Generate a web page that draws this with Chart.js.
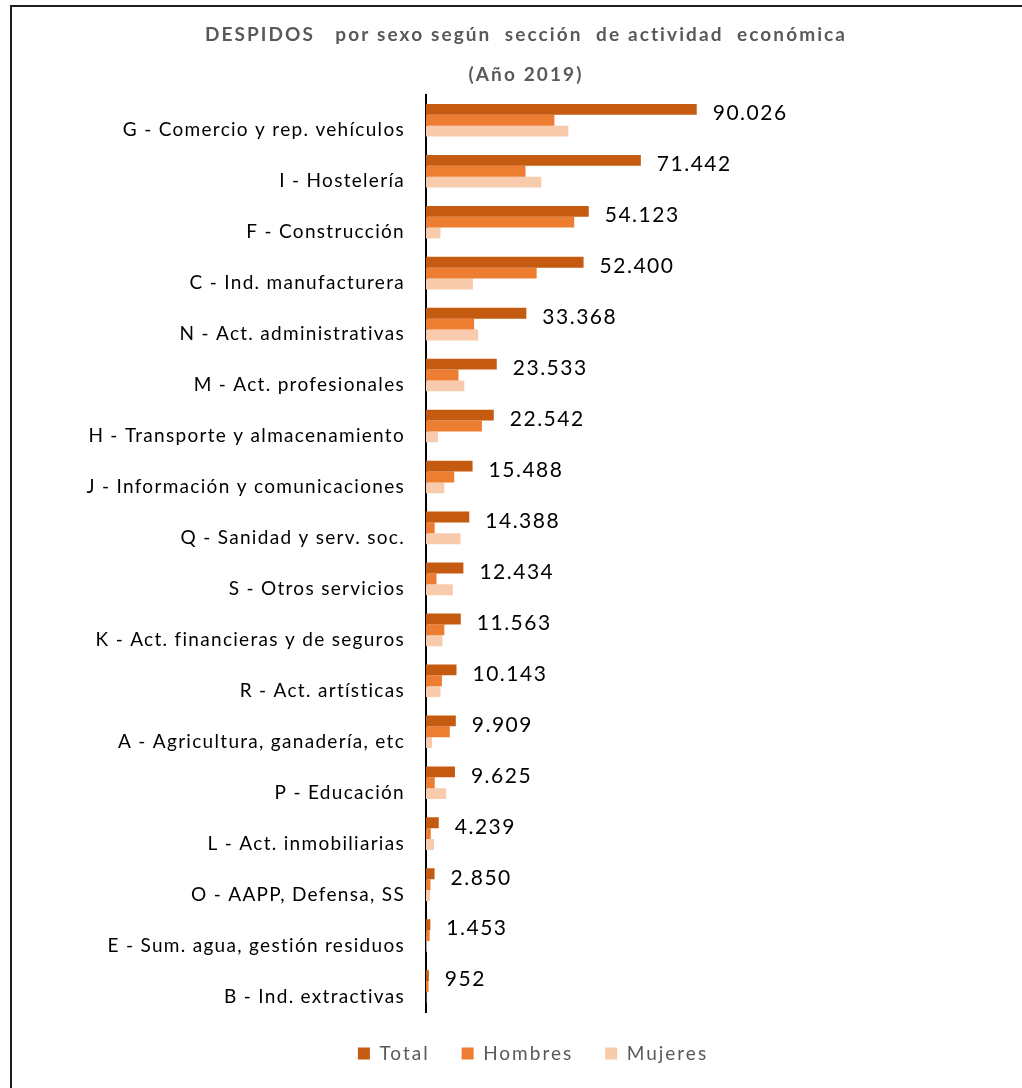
<!DOCTYPE html>
<html>
<head>
<meta charset="utf-8">
<script src="https://cdn.jsdelivr.net/npm/chart.js@4.4.1/dist/chart.umd.min.js"></script>
<style>
  html, body { margin: 0; padding: 0; background: #fff; overflow: hidden; width: 1022px; height: 1088px; }
  #frame { position: absolute; left: 10px; top: 5px; width: 1100px; height: 1200px; border-left: 2px solid #1e1e1e; border-top: 2px solid #1e1e1e; }
  #wrap { position: absolute; left: 12px; top: 7px; width: 1010px; height: 1066px; }
</style>
</head>
<body>
<div id="frame"></div>
<div id="wrap"><canvas id="c"></canvas></div>
<script>
const categories = [
  "G - Comercio y rep. vehículos",
  "I - Hostelería",
  "F - Construcción",
  "C - Ind. manufacturera",
  "N - Act. administrativas",
  "M - Act. profesionales",
  "H - Transporte y almacenamiento",
  "J - Información y comunicaciones",
  "Q - Sanidad y serv. soc.",
  "S - Otros servicios",
  "K - Act. financieras y de seguros",
  "R - Act. artísticas",
  "A - Agricultura, ganadería, etc",
  "P - Educación",
  "L - Act. inmobiliarias",
  "O - AAPP, Defensa, SS",
  "E - Sum. agua, gestión residuos",
  "B - Ind. extractivas"
];
const total   = [90026, 71442, 54123, 52400, 33368, 23533, 22542, 15488, 14388, 12434, 11563, 10143, 9909, 9625, 4239, 2850, 1453, 952];
const hombres = [42700, 33100, 49300, 36800, 16000, 10800, 18600, 9400, 2900, 3500, 6100, 5300, 7900, 2900, 1600, 1500, 1200, 850];
const mujeres = [47326, 38342, 4823, 15600, 17368, 12733, 3942, 6088, 11488, 8934, 5463, 4843, 2009, 6725, 2639, 1350, 253, 102];
const seriesNames = ["Total", "Hombres", "Mujeres"];
const titleLines = ["DESPIDOS   por sexo según  sección  de actividad  económica", "(Año 2019)"];

const FONT = "Lato, 'Open Sans', sans-serif";

function fmt(v) {
  return String(v).replace(/\B(?=(\d{3})+(?!\d))/g, ".");
}

function withSpacing(obj, method, chart, spacing) {
  if (!obj || obj['_ls_' + method]) return;
  const orig = obj[method].bind(obj);
  obj[method] = function (...args) {
    const c = chart.ctx;
    c.save();
    c.letterSpacing = spacing;
    const r = orig(...args);
    c.restore();
    return r;
  };
  obj['_ls_' + method] = true;
}

const spacingPlugin = {
  id: 'spacing',
  beforeLayout(chart) { chart.ctx.letterSpacing = '2px'; },
  afterLayout(chart) {
    chart.ctx.letterSpacing = '0px';
    if (chart.legend) { chart.legend.left += 7; chart.legend.right += 7; }
    withSpacing(chart.titleBlock, 'draw', chart, '2.1px');
    withSpacing(chart.legend, 'draw', chart, '2px');
    withSpacing(chart.scales.y, 'drawLabels', chart, '1.3px');
  }
};

const valueLabels = {
  id: 'valueLabels',
  afterDatasetsDraw(chart) {
    const ctx = chart.ctx;
    const meta = chart.getDatasetMeta(0);
    ctx.save();
    ctx.letterSpacing = '1.5px';
    ctx.font = "21px " + FONT;
    ctx.fillStyle = "#000";
    ctx.textAlign = "left";
    ctx.textBaseline = "middle";
    meta.data.forEach((bar, i) => {
      ctx.fillText(fmt(chart.data.datasets[0].data[i]), bar.x + 16, bar.y + 4);
    });
    ctx.restore();
  }
};

new Chart(document.getElementById('c'), {
  type: 'bar',
  data: {
    labels: categories,
    datasets: [
      { label: seriesNames[0], data: total,   backgroundColor: '#C55A11' },
      { label: seriesNames[1], data: hombres, backgroundColor: '#ED7D31' },
      { label: seriesNames[2], data: mujeres, backgroundColor: '#F8CBAD' }
    ]
  },
  options: {
    indexAxis: 'y',
    responsive: true,
    maintainAspectRatio: false,
    animation: false,
    datasets: { bar: { categoryPercentage: 0.64, barPercentage: 1.0, borderWidth: 0 } },
    layout: { padding: { left: 18, right: 0, top: 0, bottom: 0 } },
    scales: {
      x: { display: false, min: 0, max: 198200 },
      y: {
        grid: { display: false, drawTicks: false },
        border: { display: true, color: '#000', width: 2 },
        ticks: { color: '#000', font: { family: FONT, size: 19 }, padding: 21, labelOffset: 10, autoSkip: false },
        afterFit(scale) { scale.width = 396; }
      }
    },
    plugins: {
      title: {
        display: true,
        text: titleLines,
        color: '#595959',
        font: { family: FONT, size: 19, weight: 'bold', lineHeight: 2.1 },
        padding: { top: 8, bottom: 0 }
      },
      legend: {
        position: 'bottom',
        labels: { color: '#595959', font: { family: FONT, size: 19 }, boxWidth: 12, boxHeight: 12, padding: 32 }
      },
      tooltip: { enabled: false }
    }
  },
  plugins: [spacingPlugin, valueLabels]
});
</script>
</body>
</html>
